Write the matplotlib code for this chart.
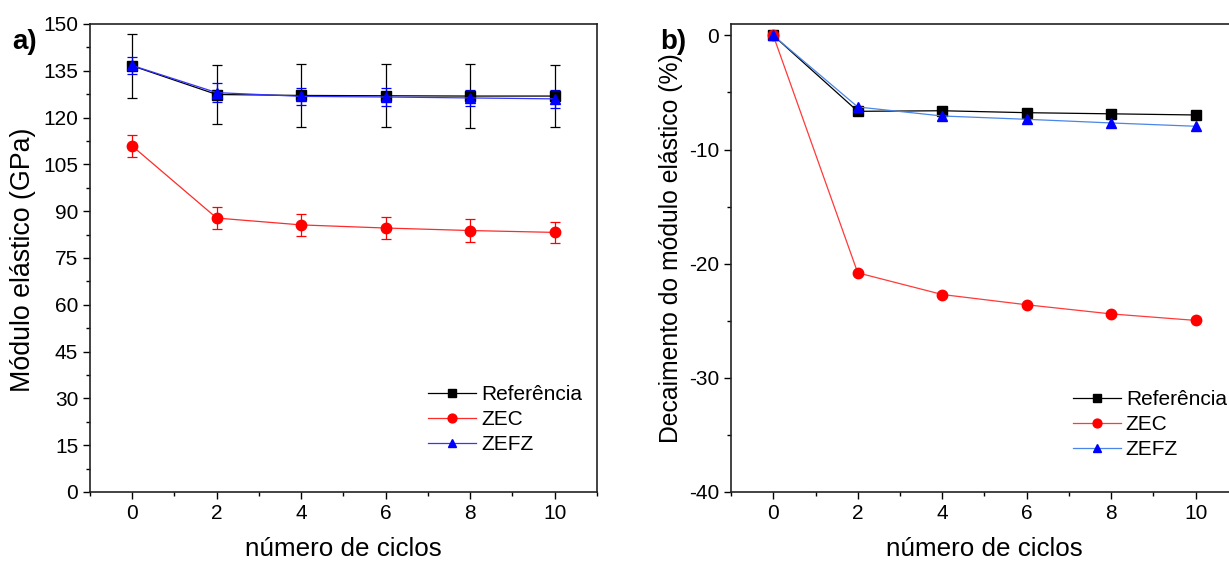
import matplotlib
matplotlib.use('Agg')
import matplotlib.pyplot as plt
from matplotlib.ticker import MultipleLocator

plt.rcParams['font.family'] = ['Liberation Sans', 'DejaVu Sans']
plt.rcParams['axes.unicode_minus'] = False

ciclos = [0, 2, 4, 6, 8, 10]

# a) modulo elastico (GPa) com desvio
ref_mod = [136.6, 127.4, 127.1, 127.0, 126.9, 126.9]
ref_err = [10.3, 9.6, 10.2, 10.1, 10.2, 10.0]
zec_mod = [110.9, 87.8, 85.6, 84.6, 83.8, 83.2]
zec_err = [3.6, 3.5, 3.6, 3.5, 3.6, 3.4]
zefz_mod = [136.7, 128.0, 126.8, 126.6, 126.3, 126.0]
zefz_err = [2.8, 3.0, 2.8, 2.8, 2.7, 2.8]

# b) decaimento (%)
ref_dec = [0, -6.65, -6.6, -6.77, -6.87, -6.97]
zec_dec = [0, -20.8, -22.7, -23.6, -24.4, -24.97]
zefz_dec = [0, -6.27, -7.06, -7.35, -7.67, -7.96]

labels = ['Referência', 'ZEC', 'ZEFZ']

fig = plt.figure(figsize=(12.29, 5.62), dpi=100)
ax1 = fig.add_axes([0.0732, 0.1246, 0.4125, 0.8327])
ax2 = fig.add_axes([0.5948, 0.1246, 0.4125, 0.8327])

# panel a
ax1.errorbar(ciclos, ref_mod, yerr=ref_err, fmt='none', ecolor='black', elinewidth=0.9,
             capsize=3.5, capthick=0.9)
ax1.errorbar(ciclos, zec_mod, yerr=zec_err, fmt='none', ecolor='red', elinewidth=0.9,
             capsize=3.5, capthick=0.9)
ax1.errorbar(ciclos, zefz_mod, yerr=zefz_err, fmt='none', ecolor='blue', elinewidth=0.9,
             capsize=3.5, capthick=0.9)
ax1.plot(ciclos, ref_mod, color='black', marker='s', ms=6.5, lw=0.9, label=labels[0])
ax1.plot(ciclos, zec_mod, color='#ff2a2a', marker='o', ms=7.5, lw=0.9,
         mfc='red', mec='red', label=labels[1])
ax1.plot(ciclos, zefz_mod, color='#3535ff', marker='^', ms=7.5, lw=0.9,
         mfc='blue', mec='blue', label=labels[2])

# panel b
ax2.plot(ciclos, ref_dec, color='black', marker='s', ms=6.5, lw=0.9, label=labels[0])
ax2.plot(ciclos, zec_dec, color='#ff3a3a', marker='o', ms=7.5, lw=0.9,
         mfc='red', mec='red', label=labels[1])
ax2.plot(ciclos, zefz_dec, color='#4a86e8', marker='^', ms=7.5, lw=0.9,
         mfc='blue', mec='blue', label=labels[2])

ax1.set_xlim(-1, 11)
ax1.set_ylim(0, 150)
ax1.yaxis.set_major_locator(MultipleLocator(15))
ax1.yaxis.set_minor_locator(MultipleLocator(7.5))
ax1.set_ylabel('Módulo elástico (GPa)', fontsize=19.3)
ax1.yaxis.set_label_coords(-0.107, 0.496)

ax2.set_xlim(-1, 11)
ax2.set_ylim(-40, 1)
ax2.yaxis.set_major_locator(MultipleLocator(10))
ax2.yaxis.set_minor_locator(MultipleLocator(5))
ax2.set_ylabel('Decaimento do módulo elástico (%)', fontsize=17.8)
ax2.yaxis.set_label_coords(-0.095, 0.521)

for ax in (ax1, ax2):
    ax.xaxis.set_major_locator(MultipleLocator(2))
    ax.xaxis.set_minor_locator(MultipleLocator(1))
    ax.set_xlabel('número de ciclos', fontsize=18.7, labelpad=10)
    ax.tick_params(which='major', direction='out', length=5, width=1, labelsize=15)
    ax.tick_params(which='minor', direction='out', length=3, width=1)
    ax.tick_params(top=False, right=False, which='both')
    for s in ax.spines.values():
        s.set_linewidth(1.2)
        s.set_color('#222222')

ax1.legend(loc='upper left', bbox_to_anchor=(0.667, 0.229), frameon=False, fontsize=15,
           handlelength=2.3, handletextpad=0.25, labelspacing=0.3, borderpad=0,
           borderaxespad=0, markerscale=0.85)
ax2.legend(loc='upper left', bbox_to_anchor=(0.674, 0.218), frameon=False, fontsize=15,
           handlelength=2.3, handletextpad=0.25, labelspacing=0.3, borderpad=0,
           borderaxespad=0, markerscale=0.85)

fig.text(0.010, 0.912, 'a)', fontsize=20, fontweight='bold')
fig.text(0.537, 0.912, 'b)', fontsize=20, fontweight='bold')

fig.savefig('out.png', dpi=100)
